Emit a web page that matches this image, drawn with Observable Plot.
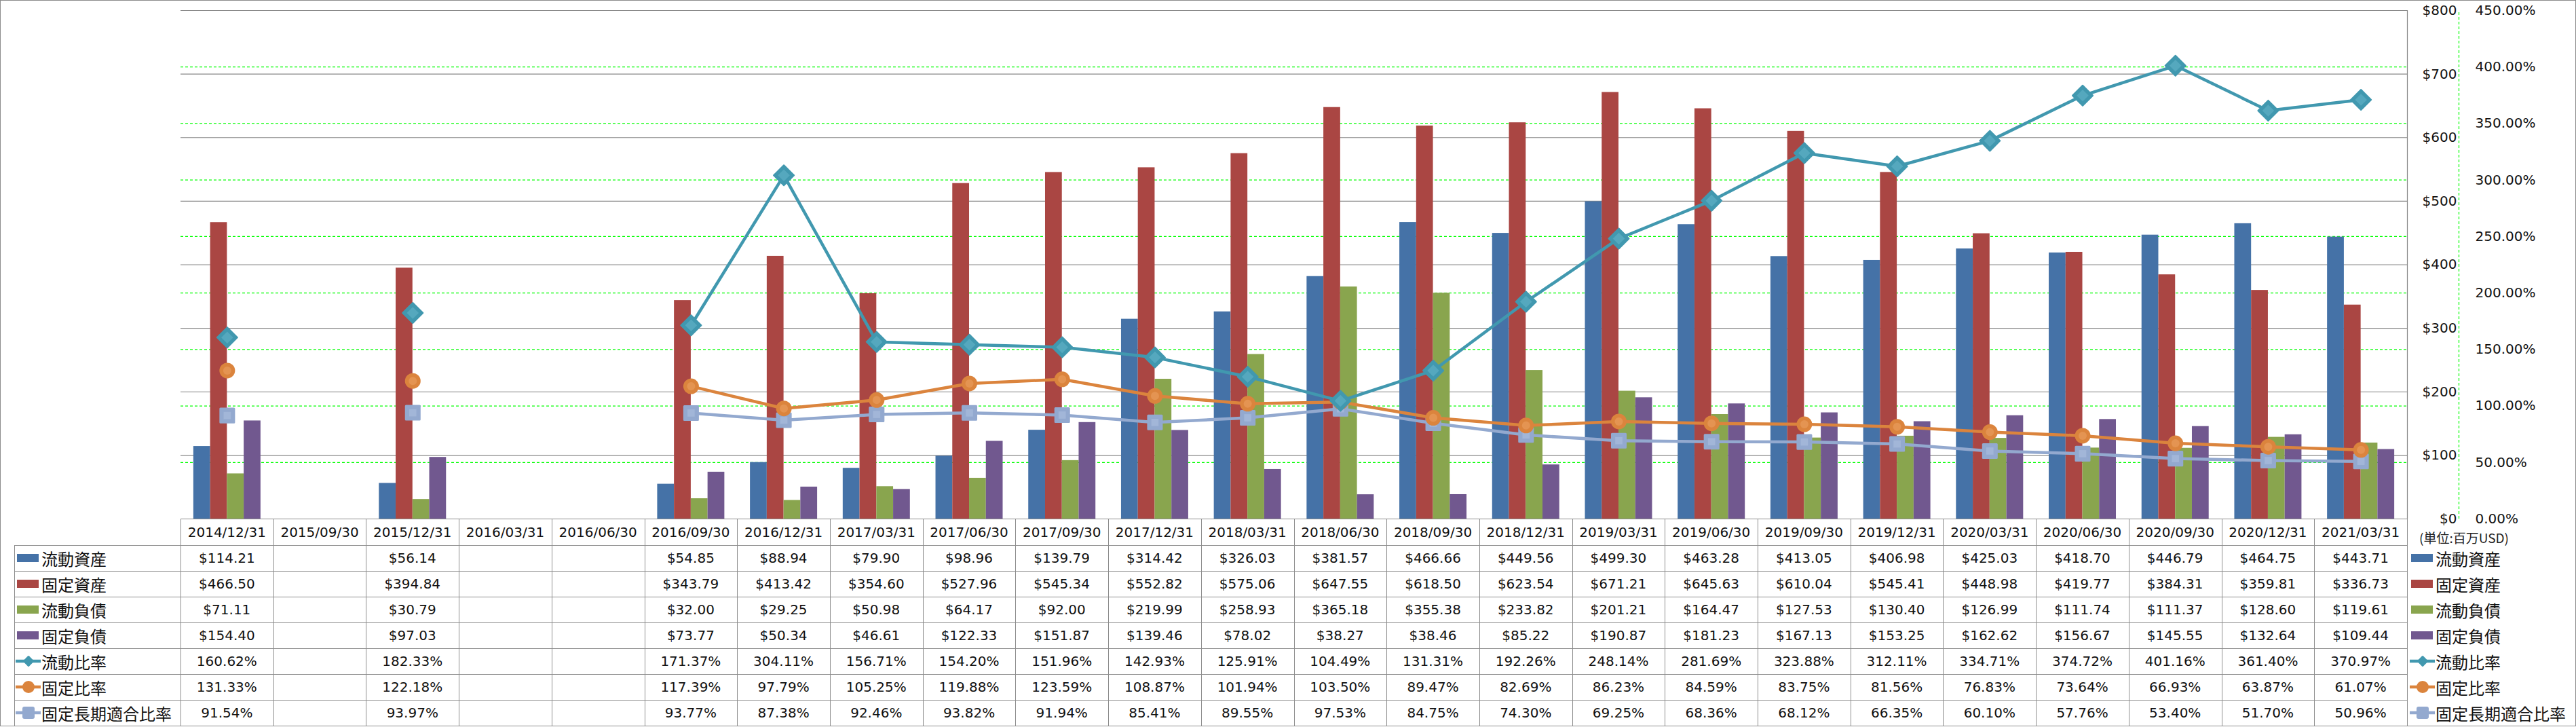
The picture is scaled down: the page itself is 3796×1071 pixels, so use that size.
<!DOCTYPE html>
<html><head><meta charset="utf-8">
<script src="https://cdn.jsdelivr.net/npm/d3@7"></script>
<script src="https://cdn.jsdelivr.net/npm/@observablehq/plot@0.6"></script>
<style>
html,body{margin:0;padding:0;background:#fff;}
#chart{position:relative;width:3796px;height:1071px;overflow:hidden;background:#fff;}
#frame{position:absolute;left:0;top:0;width:3796px;height:1071px;box-sizing:border-box;border:1px solid #8c8c8c;border-bottom:none;pointer-events:none;}
.hl{position:absolute;height:1px;background:#8c8c8c;}
.vl{position:absolute;width:1px;background:#8c8c8c;}
.cell{position:absolute;display:flex;align-items:center;justify-content:center;font-family:"DejaVu Sans",sans-serif;font-size:20px;color:#111;white-space:nowrap;}
.lab{position:absolute;display:flex;align-items:center;font-family:"Noto Sans CJK JP",sans-serif;font-size:24px;color:#111;white-space:nowrap;}
.unit{position:absolute;font-family:"Noto Sans CJK JP",sans-serif;font-size:19px;color:#222;white-space:nowrap;}
</style></head><body><div id="chart"></div>
<script>
const dates = ["2014/12/31","2015/09/30","2015/12/31","2016/03/31","2016/06/30","2016/09/30","2016/12/31","2017/03/31","2017/06/30","2017/09/30","2017/12/31","2018/03/31","2018/06/30","2018/09/30","2018/12/31","2019/03/31","2019/06/30","2019/09/30","2019/12/31","2020/03/31","2020/06/30","2020/09/30","2020/12/31","2021/03/31"];
const currentAssets = [114.21,null,56.14,null,null,54.85,88.94,79.90,98.96,139.79,314.42,326.03,381.57,466.66,449.56,499.30,463.28,413.05,406.98,425.03,418.70,446.79,464.75,443.71];
const fixedAssets = [466.50,null,394.84,null,null,343.79,413.42,354.60,527.96,545.34,552.82,575.06,647.55,618.50,623.54,671.21,645.63,610.04,545.41,448.98,419.77,384.31,359.81,336.73];
const currentLiabilities = [71.11,null,30.79,null,null,32.00,29.25,50.98,64.17,92.00,219.99,258.93,365.18,355.38,233.82,201.21,164.47,127.53,130.40,126.99,111.74,111.37,128.60,119.61];
const fixedLiabilities = [154.40,null,97.03,null,null,73.77,50.34,46.61,122.33,151.87,139.46,78.02,38.27,38.46,85.22,190.87,181.23,167.13,153.25,162.62,156.67,145.55,132.64,109.44];
const currentRatio = [160.62,null,182.33,null,null,171.37,304.11,156.71,154.20,151.96,142.93,125.91,104.49,131.31,192.26,248.14,281.69,323.88,312.11,334.71,374.72,401.16,361.40,370.97];
const fixedRatio = [131.33,null,122.18,null,null,117.39,97.79,105.25,119.88,123.59,108.87,101.94,103.50,89.47,82.69,86.23,84.59,83.75,81.56,76.83,73.64,66.93,63.87,61.07];
const fixedLongTermRatio = [91.54,null,93.97,null,null,93.77,87.38,92.46,93.82,91.94,85.41,89.55,97.53,84.75,74.30,69.25,68.36,68.12,66.35,60.10,57.76,53.40,51.70,50.96];
const usdTicks = [0,100,200,300,400,500,600,700,800];
const pctTicks = [0,50,100,150,200,250,300,350,400,450];
const unitLabel = "(単位:百万USD)";

const barSeries = [
  {name:"流動資産", values:currentAssets, color:"#4572A7"},
  {name:"固定資産", values:fixedAssets, color:"#AA4643"},
  {name:"流動負債", values:currentLiabilities, color:"#89A54E"},
  {name:"固定負債", values:fixedLiabilities, color:"#71588F"}
];
const lineSeries = [
  {name:"流動比率", values:currentRatio, color:"#4198AF", light:"#55A8BE", symbol:"diamond"},
  {name:"固定比率", values:fixedRatio, color:"#DB843D", light:"#E49452", symbol:"circle"},
  {name:"固定長期適合比率", values:fixedLongTermRatio, color:"#93A9CF", light:"#A2B6D8", symbol:"square"}
];

const W = 3796, X0 = 266, X1 = 3547, YTOP = 15, YBOT = 764;
const n = dates.length;
const colW = (X1 - X0) / n;
const USD_MAX = 800, PCT_MAX = 450;
const toY = p => p * USD_MAX / PCT_MAX;
const G = 0.724; // group width in band units
const bw = G / barSeries.length;

const marks = [];
marks.push(Plot.ruleY(usdTicks, {stroke:"#878787", strokeWidth:1.2}));
marks.push(Plot.ruleY(pctTicks.filter(p => p > 0 && p < PCT_MAX), {y: p => toY(p), stroke:"#00FF00", strokeWidth:1.2, strokeDasharray:"4,3"}));
barSeries.forEach((s, k) => {
  const data = s.values.map((v, i) => ({i, v})).filter(d => d.v != null);
  marks.push(Plot.rectY(data, {x1: d => d.i - G/2 + k*bw, x2: d => d.i - G/2 + (k+1)*bw, y1: 0, y2: "v", fill: s.color}));
});
[2,1,0].forEach(j => {
  const s = lineSeries[j];
  const all = s.values.map((v, i) => ({i, v}));
  const pts = all.filter(d => d.v != null);
  marks.push(Plot.line(all, {x:"i", y: d => d.v == null ? NaN : toY(d.v), stroke: s.color, strokeWidth: 4.5, strokeLinejoin:"round"}));
  if (s.symbol === "diamond") {
    marks.push(Plot.dot(pts, {x:"i", y: d => toY(d.v), symbol:"square", rotate:45, r: 12, fill: s.color, stroke: s.color, strokeWidth: 2, strokeLinejoin:"round"}));
    marks.push(Plot.dot(pts, {x:"i", y: d => toY(d.v), symbol:"square", rotate:45, r: 7, fill: s.light}));
  } else if (s.symbol === "circle") {
    marks.push(Plot.dot(pts, {x:"i", y: d => toY(d.v), r: 11.5, fill: s.color}));
    marks.push(Plot.dot(pts, {x:"i", y: d => toY(d.v), r: 6, fill: s.light}));
  } else {
    marks.push(Plot.dot(pts, {x:"i", y: d => toY(d.v), symbol:"square", r: 11.3, fill: s.color, stroke: s.color, strokeWidth: 3, strokeLinejoin:"round"}));
    marks.push(Plot.dot(pts, {x:"i", y: d => toY(d.v), symbol:"square", r: 6, fill: s.light}));
  }
});
marks.push(Plot.ruleX([n - 0.5], {y1: 0, y2: USD_MAX, stroke:"#878787", strokeWidth:1.2}));
marks.push(Plot.ruleX([n - 0.5], {y1: 0, y2: USD_MAX, dx: 76, stroke:"#00FF00", strokeWidth:1.2, strokeDasharray:"4,3"}));
marks.push(Plot.text(usdTicks, {y: d => d, text: d => "$" + d, frameAnchor:"right", dx: 73, textAnchor:"end", fontSize: 20, fill:"#111"}));
marks.push(Plot.text(pctTicks, {y: d => toY(d), text: d => d.toFixed(2) + "%", frameAnchor:"right", dx: 100, textAnchor:"start", fontSize: 20, fill:"#111"}));

const svg = Plot.plot({
  width: W, height: YBOT + 6,
  marginLeft: X0, marginRight: W - X1, marginTop: YTOP, marginBottom: 6,
  x: {type:"linear", domain:[-0.5, n - 0.5], axis:null},
  y: {type:"linear", domain:[0, USD_MAX], axis:null},
  style: {background:"transparent", fontFamily:"DejaVu Sans, sans-serif", overflow:"visible"},
  marks
});
const chart = document.getElementById("chart");
svg.style.position = "absolute"; svg.style.left = "0px"; svg.style.top = "0px";
chart.appendChild(svg);

// ---- data table ----
const TL = 21, HDR = 764, R0 = 803, RH = 38;
const nRows = barSeries.length + lineSeries.length;
function hl(x1, x2, y){ const d = document.createElement("div"); d.className="hl"; d.style.left=x1+"px"; d.style.width=(x2-x1+1)+"px"; d.style.top=y+"px"; chart.appendChild(d); }
function vl(x, y1, y2){ const d = document.createElement("div"); d.className="vl"; d.style.left=x+"px"; d.style.top=y1+"px"; d.style.height=(y2-y1+1)+"px"; chart.appendChild(d); }
function cell(x, y, w, h, t, cls){ const d = document.createElement("div"); d.className=cls||"cell"; d.style.left=x+"px"; d.style.top=y+"px"; d.style.width=w+"px"; d.style.height=h+"px"; d.textContent=t; chart.appendChild(d); return d; }
const rowBottom = R0 + nRows*RH;
hl(X0, X1, HDR);
for (let r = 0; r <= nRows; r++) hl(TL, X1, R0 + r*RH);
vl(TL, R0, rowBottom);
for (let j = 0; j <= n; j++) vl(Math.round(X0 + j*colW), HDR, rowBottom);
dates.forEach((d, j) => cell(X0 + j*colW, HDR, colW, R0 - HDR, d));
const rows = [
  ...barSeries.map(s => ({s, fmt: v => "$" + v.toFixed(2)})),
  ...lineSeries.map(s => ({s, fmt: v => v.toFixed(2) + "%"}))
];
function keySvg(s, isBar){
  const k = d3.create("svg").attr("width", 38).attr("height", 38).style("flex", "none");
  if (isBar) {
    k.append("rect").attr("x", 2).attr("y", 13).attr("width", 32).attr("height", 12).attr("fill", s.color);
  } else {
    k.append("line").attr("x1", 0).attr("x2", 37).attr("y1", 19).attr("y2", 19).attr("stroke", s.color).attr("stroke-width", 4.5);
    if (s.symbol === "diamond") k.append("rect").attr("x", 13).attr("y", 13).attr("width", 12).attr("height", 12).attr("rx", 1.5).attr("transform", "rotate(45 19 19)").attr("fill", s.color);
    else if (s.symbol === "circle") k.append("circle").attr("cx", 19).attr("cy", 19).attr("r", 9).attr("fill", s.color);
    else k.append("rect").attr("x", 10).attr("y", 10).attr("width", 18).attr("height", 18).attr("rx", 3).attr("fill", s.color);
  }
  return k.node();
}
rows.forEach((row, r) => {
  const y = R0 + r*RH;
  const isBar = r < barSeries.length;
  const lab = cell(TL + 2, y, X0 - TL - 2, RH, "", "lab");
  lab.appendChild(keySvg(row.s, isBar));
  lab.appendChild(document.createTextNode(row.s.name));
  row.s.values.forEach((v, j) => { if (v != null) cell(X0 + j*colW, y, colW, RH, row.fmt(v)); });
  const rl = cell(3551, y, 240, RH, "", "lab");
  rl.appendChild(keySvg(row.s, isBar));
  rl.appendChild(document.createTextNode(row.s.name));
});
const u = document.createElement("div"); u.className = "unit"; u.style.left = "3565px"; u.style.top = "778px"; u.textContent = unitLabel; chart.appendChild(u);
hl(0, W - 1, rowBottom);
const fr = document.createElement("div"); fr.id = "frame"; fr.style.height = (rowBottom + 1) + "px"; chart.appendChild(fr);
</script></body></html>
